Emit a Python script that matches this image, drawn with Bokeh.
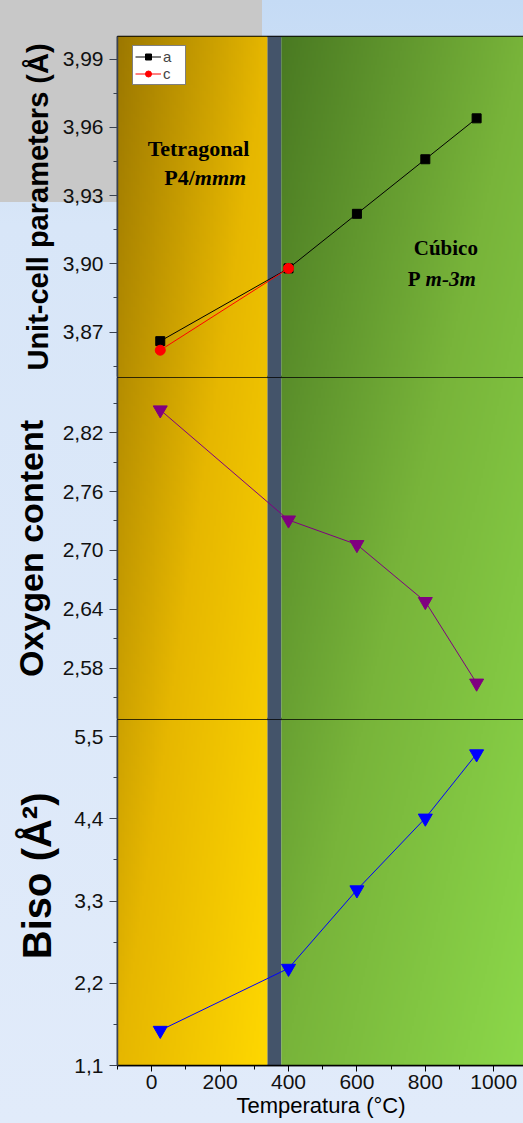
import numpy as np
from bokeh.plotting import figure
from bokeh.layouts import column
from bokeh.models import (Range1d, FixedTicker, CustomJSTickFormatter, BoxAnnotation,
                          Legend, LegendItem)
from bokeh.core.properties import value
from bokeh.embed import file_html
from bokeh.resources import INLINE

# ---------------- data ----------------
temps = [25, 400, 600, 800, 950]
temps_c = [25, 400]
a_param = [3.866, 3.898, 3.922, 3.946, 3.964]
c_param = [3.862, 3.898]
oxygen = [2.843, 2.731, 2.706, 2.648, 2.565]
biso = [1.57, 2.40, 3.45, 4.41, 5.27]

x_ticks = [0, 200, 400, 600, 800, 1000]
x_minor = [-100, 100, 300, 500, 700, 900]
y1_ticks = [3.87, 3.90, 3.93, 3.96, 3.99]
y1_minor = [3.855, 3.885, 3.915, 3.945, 3.975]
y2_ticks = [2.58, 2.64, 2.70, 2.76, 2.82]
y2_minor = [2.55, 2.61, 2.67, 2.73, 2.79, 2.85]
y3_ticks = [1.1, 2.2, 3.3, 4.4, 5.5]
y3_minor = [1.65, 2.75, 3.85, 4.95]

x_lo, x_hi = -100, 1090
tet_end, cub_start = 338, 379
y1_range = (3.85, 4.0)
y2_range = (2.528, 2.876)
y3_range = (1.1, 5.73)

FRAME_W = 407
FH = [341, 342, 346]
TOTAL_H = sum(FH)

xr = Range1d(x_lo, x_hi)

GOLD = [(156, 120, 0), (230, 183, 0), (255, 216, 0)]
GREEN = [(74, 122, 34), (120, 180, 58), (140, 216, 74)]


def grad_img(stops, nx, ny, v_top, v_bot):
    u = np.linspace(0, 1, nx)[None, :]
    v = np.linspace(v_bot, v_top, ny)[:, None]
    t = (u + v) / 2.0
    img = np.empty((ny, nx), dtype=np.uint32)
    view = img.view(dtype=np.uint8).reshape((ny, nx, 4))
    for ch in range(3):
        view[..., ch] = np.interp(t, [0, 0.5, 1], [s[ch] for s in stops]).astype(np.uint8)
    view[..., 3] = 255
    return img


def make_fig(yr, idx, top, bottom, xaxis):
    fh = FH[idx]
    p = figure(frame_width=FRAME_W, frame_height=fh, x_range=xr, y_range=Range1d(*yr),
               output_backend="svg", toolbar_location=None,
               min_border_left=108, min_border_right=0, min_border_top=top,
               min_border_bottom=bottom, background_fill_alpha=0, border_fill_alpha=0,
               outline_line_color="black", outline_line_width=1.5,
               x_axis_location="below" if xaxis else None)
    p.xgrid.visible = False
    p.ygrid.visible = False
    v_top = sum(FH[:idx]) / TOTAL_H
    v_bot = sum(FH[:idx + 1]) / TOTAL_H
    g1 = grad_img(GOLD, 80, 120, v_top, v_bot)
    g2 = grad_img(GREEN, 120, 120, v_top, v_bot)
    p.image_rgba(image=[g1], x=x_lo, y=yr[0], dw=tet_end - x_lo, dh=yr[1] - yr[0])
    p.image_rgba(image=[g2], x=cub_start, y=yr[0], dw=x_hi - cub_start, dh=yr[1] - yr[0])
    p.add_layout(BoxAnnotation(left=tet_end, right=cub_start, fill_color="#44546a",
                               fill_alpha=1, line_alpha=0, level="underlay"))
    ya = p.yaxis[0]
    ya.major_label_text_font = "Liberation Sans"
    ya.major_label_text_font_size = "21px"
    ya.major_label_text_color = "#111111"
    ya.major_tick_in = 0
    ya.major_tick_out = 8
    ya.minor_tick_in = 0
    ya.minor_tick_out = 4
    ya.major_label_standoff = 6
    ya.axis_line_color = "#3a4250"
    ya.major_tick_line_color = "#3a4250"
    ya.minor_tick_line_color = "#3a4250"
    ya.axis_line_width = 1.5
    ya.axis_label_text_font = "Liberation Sans"
    ya.axis_label_text_font_style = "bold"
    ya.axis_label_text_color = "black"
    return p


# Panel 1
p1 = make_fig(y1_range, 0, 28, 0, False)
p1.yaxis.ticker = FixedTicker(ticks=y1_ticks, minor_ticks=y1_minor)
p1.yaxis.formatter = CustomJSTickFormatter(code="return tick.toFixed(2).replace('.', ',')")
p1.yaxis.axis_label = "Unit-cell parameters (Å)"
p1.yaxis.axis_label_text_font_size = "29px"
p1.yaxis.axis_label_standoff = 6
la = p1.line(temps, a_param, line_color="black", line_width=1)
sa = p1.scatter(temps, a_param, marker="square", size=9, fill_color="black", line_color="black")
lc = p1.line(temps_c, c_param, line_color="#ff0000", line_width=1)
sc = p1.scatter(temps_c, c_param, marker="circle", size=10, fill_color="#ff0000", line_color="#ff0000")
legend = Legend(items=[LegendItem(label="a", renderers=[la, sa]),
                       LegendItem(label="c", renderers=[lc, sc])],
                location=(22, 292), margin=0, padding=2, spacing=0,
                glyph_width=26, glyph_height=15, label_height=15, label_standoff=2,
                label_text_font="Liberation Sans", label_text_font_size="15px",
                border_line_color="black", border_line_width=1,
                background_fill_color="white", background_fill_alpha=1)
p1.add_layout(legend)
serif = value("Liberation Serif")
p1.text(x=[137], y=[3.9508], text=["Tetragonal"], text_font=serif, text_font_style="bold",
        text_font_size="22px", text_align="center", text_baseline="middle", text_color="black")
p1.text(x=[126], y=[3.938], text=["P4/"], text_font=serif, text_font_style="bold",
        text_font_size="22px", text_align="right", text_baseline="middle", text_color="black")
p1.text(x=[126], y=[3.938], text=["mmm"], text_font=serif, text_font_style="bold italic",
        text_font_size="22px", text_align="left", text_baseline="middle", text_color="black")
p1.text(x=[860], y=[3.907], text=["Cúbico"], text_font=serif, text_font_style="bold",
        text_font_size="21px", text_align="center", text_baseline="middle", text_color="black")
p1.text(x=[792], y=[3.8934], text=["P"], text_font=serif, text_font_style="bold",
        text_font_size="21px", text_align="right", text_baseline="middle", text_color="black",
        x_offset=-2)
p1.text(x=[792], y=[3.8934], text=["m-3m"], text_font=serif, text_font_style="bold italic",
        text_font_size="21px", text_align="left", text_baseline="middle", text_color="black",
        x_offset=3)

# Panel 2
p2 = make_fig(y2_range, 1, 0, 0, False)
p2.yaxis.ticker = FixedTicker(ticks=y2_ticks, minor_ticks=y2_minor)
p2.yaxis.formatter = CustomJSTickFormatter(code="return tick.toFixed(2).replace('.', ',')")
p2.yaxis.axis_label = "Oxygen content"
p2.yaxis.axis_label_text_font_size = "34px"
p2.yaxis.axis_label_standoff = 10
p2.line(temps, oxygen, line_color="#800080", line_width=1)
p2.scatter(temps, oxygen, marker="inverted_triangle", size=14, fill_color="#800080",
           line_color="#800080")

# Panel 3
p3 = make_fig(y3_range, 2, 0, 58, True)
p3.yaxis.ticker = FixedTicker(ticks=y3_ticks, minor_ticks=y3_minor)
p3.yaxis.formatter = CustomJSTickFormatter(code="return tick.toFixed(1).replace('.', ',')")
p3.yaxis.axis_label = "\u00a0\u00a0\u00a0Biso (Å²)"
p3.yaxis.axis_label_text_font_size = "40px"
p3.yaxis.axis_label_standoff = 12
p3.line(temps, biso, line_color="#0000ff", line_width=1)
p3.scatter(temps, biso, marker="inverted_triangle", size=14, fill_color="#0000ff",
           line_color="#0000ff")
xa = p3.xaxis[0]
xa.ticker = FixedTicker(ticks=x_ticks, minor_ticks=x_minor)
xa.major_label_text_font = "Liberation Sans"
xa.major_label_text_font_size = "21px"
xa.major_label_text_color = "#111111"
xa.major_tick_in = 0
xa.major_tick_out = 6
xa.minor_tick_in = 0
xa.minor_tick_out = 4
xa.major_label_standoff = 3
xa.axis_line_color = "black"
xa.axis_line_width = 1.5
xa.axis_label = "Temperatura (°C)"
xa.axis_label_text_font = "Liberation Sans"
xa.axis_label_text_font_style = "normal"
xa.axis_label_text_font_size = "22px"
xa.axis_label_standoff = 1
xa.axis_label_text_color = "black"

layout = column(p1, p2, p3, spacing=0)

html = file_html(layout, INLINE)
style = ("<style>html{overflow:hidden;height:100%;"
         "background:linear-gradient(#c8c8c8,#c8c8c8) 0 0/262px 202px no-repeat,"
         "linear-gradient(180deg,#c5dbf5 0%,#d8e6f8 20%,#e1ebfa 100%) no-repeat;}"
         "body{margin:8px 0 0 8px;background:transparent;}</style></head>")
html = html.replace("</head>", style, 1)
open("out.html", "w").write(html)
